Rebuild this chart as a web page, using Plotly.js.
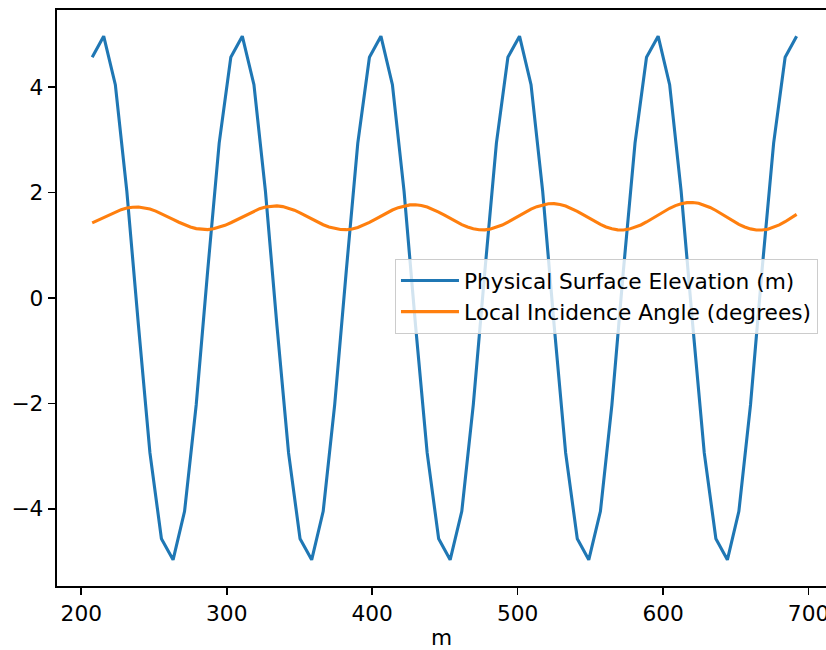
<!DOCTYPE html>
<html>
<head>
<meta charset="utf-8">
<script src="https://cdn.plot.ly/plotly-3.0.1.min.js"></script>
<style>
  html, body { margin: 0; padding: 0; background: #ffffff; }
  #chart { width: 826px; height: 650px; }
</style>
</head>
<body>
<div id="chart"></div>
<script>
// Along-track distance (m) of the surface samples
const elevationX = [
  207.5, 215.4, 223.4, 231.3, 239.3, 247.2, 255.1, 263.1, 271.0, 279.0, 286.9, 294.8,
  302.8, 310.7, 318.7, 326.6, 334.5, 342.5, 350.4, 358.4, 366.3, 374.2, 382.2, 390.1,
  398.1, 406.0, 413.9, 421.9, 429.8, 437.8, 445.7, 453.6, 461.6, 469.5, 477.5, 485.4,
  493.3, 501.3, 509.2, 517.2, 525.1, 533.0, 541.0, 548.9, 556.9, 564.8, 572.7, 580.7,
  588.6, 596.6, 604.5, 612.4, 620.4, 628.3, 636.3, 644.2, 652.1, 660.1, 668.0, 676.0,
  683.9, 691.8
];

// Physical surface elevation (m)
const elevation = [
  4.57, 4.97, 4.05, 2.03, -0.52, -2.94, -4.57, -4.97, -4.05, -2.03, 0.52, 2.94,
  4.57, 4.97, 4.05, 2.03, -0.52, -2.94, -4.57, -4.97, -4.05, -2.03, 0.52, 2.94,
  4.57, 4.97, 4.05, 2.03, -0.52, -2.94, -4.57, -4.97, -4.05, -2.03, 0.52, 2.94,
  4.57, 4.97, 4.05, 2.03, -0.52, -2.94, -4.57, -4.97, -4.05, -2.03, 0.52, 2.94,
  4.57, 4.97, 4.05, 2.03, -0.52, -2.94, -4.57, -4.97, -4.05, -2.03, 0.52, 2.94,
  4.57, 4.97
];

// Along-track distance (m) of the incidence-angle samples
const angleX = [
  207.5, 211.5, 215.4, 219.4, 223.4, 227.4, 231.3, 235.3, 239.3, 243.2, 247.2, 251.2,
  255.1, 259.1, 263.1, 267.1, 271.0, 275.0, 279.0, 282.9, 286.9, 290.9, 294.8, 298.8,
  302.8, 306.8, 310.7, 314.7, 318.7, 322.6, 326.6, 330.6, 334.5, 338.5, 342.5, 346.5,
  350.4, 354.4, 358.4, 362.3, 366.3, 370.3, 374.2, 378.2, 382.2, 386.2, 390.1, 394.1,
  398.1, 402.0, 406.0, 410.0, 413.9, 417.9, 421.9, 425.9, 429.8, 433.8, 437.8, 441.7,
  445.7, 449.7, 453.6, 457.6, 461.6, 465.6, 469.5, 473.5, 477.5, 481.4, 485.4, 489.4,
  493.3, 497.3, 501.3, 505.3, 509.2, 513.2, 517.2, 521.1, 525.1, 529.1, 533.0, 537.0,
  541.0, 545.0, 548.9, 552.9, 556.9, 560.8, 564.8, 568.8, 572.7, 576.7, 580.7, 584.7,
  588.6, 592.6, 596.6, 600.5, 604.5, 608.5, 612.4, 616.4, 620.4, 624.4, 628.3, 632.3,
  636.3, 640.2, 644.2, 648.2, 652.1, 656.1, 660.1, 664.1, 668.0, 672.0, 676.0, 679.9,
  683.9, 687.9, 691.8
];

// Local incidence angle (degrees)
const incidence = [
  1.425, 1.478, 1.533, 1.587, 1.636, 1.677, 1.707, 1.724, 1.726, 1.714, 1.688, 1.650,
  1.603, 1.549, 1.493, 1.438, 1.388, 1.347, 1.317, 1.301, 1.299, 1.313, 1.340, 1.380,
  1.429, 1.485, 1.544, 1.601, 1.653, 1.696, 1.728, 1.745, 1.748, 1.735, 1.707, 1.667,
  1.617, 1.560, 1.501, 1.443, 1.391, 1.347, 1.316, 1.299, 1.297, 1.311, 1.340, 1.382,
  1.434, 1.493, 1.555, 1.615, 1.670, 1.715, 1.748, 1.767, 1.769, 1.756, 1.727, 1.684,
  1.632, 1.572, 1.510, 1.449, 1.393, 1.348, 1.314, 1.296, 1.294, 1.309, 1.340, 1.384,
  1.439, 1.501, 1.566, 1.629, 1.686, 1.734, 1.769, 1.788, 1.791, 1.776, 1.746, 1.701,
  1.646, 1.583, 1.518, 1.454, 1.396, 1.348, 1.313, 1.294, 1.292, 1.308, 1.340, 1.386,
  1.443, 1.509, 1.576, 1.643, 1.703, 1.753, 1.789, 1.810, 1.812, 1.797, 1.765, 1.719,
  1.661, 1.595, 1.526, 1.459, 1.398, 1.348, 1.312, 1.292, 1.290, 1.306, 1.340, 1.388,
  1.448, 1.516, 1.587
];

const seriesNames = ['Physical Surface Elevation (m)', 'Local Incidence Angle (degrees)'];
const xTicks = [200, 300, 400, 500, 600, 700];
const yTicks = [-4, -2, 0, 2, 4];
const xLabel = 'm';

const FONT = 'DejaVu Sans, Liberation Sans, sans-serif';
const FS = 21.7;

const traces = [
  {
    x: elevationX, y: elevation, name: seriesNames[0],
    type: 'scatter', mode: 'lines',
    line: { color: '#1f77b4', width: 3.1 }
  },
  {
    x: angleX, y: incidence, name: seriesNames[1],
    type: 'scatter', mode: 'lines',
    line: { color: '#ff7f0e', width: 3.1 }
  }
];

const axisCommon = {
  showgrid: false,
  zeroline: false,
  showline: true,
  linecolor: '#000000',
  linewidth: 1.7,
  ticks: 'outside',
  ticklen: 7.6,
  tickwidth: 1.7,
  tickcolor: '#000000',
  ticklabeloverflow: 'allow',
  tickfont: { family: FONT, size: FS, color: '#000000' }
};

const layout = {
  width: 826,
  height: 650,
  margin: { l: 57, r: 0, t: 10, b: 64 },
  paper_bgcolor: '#ffffff',
  plot_bgcolor: '#ffffff',
  font: { family: FONT, size: FS, color: '#000000' },
  showlegend: true,
  legend: {
    x: 0.4395, y: 0.568, xanchor: 'left', yanchor: 'top',
    bgcolor: 'rgba(255,255,255,0.8)',
    bordercolor: '#cccccc', borderwidth: 1,
    itemwidth: 58,
    font: { family: FONT, size: FS, color: '#000000' }
  },
  xaxis: Object.assign({}, axisCommon, {
    range: [183.3, 712.0],
    tickvals: xTicks,
    mirror: true,
    title: { text: xLabel, font: { family: FONT, size: FS, color: '#000000' }, standoff: 9 }
  }),
  yaxis: Object.assign({}, axisCommon, {
    range: [-5.467, 5.467],
    tickvals: yTicks
  })
};

Plotly.newPlot('chart', traces, layout, { displayModeBar: false, staticPlot: true });
</script>
</body>
</html>
